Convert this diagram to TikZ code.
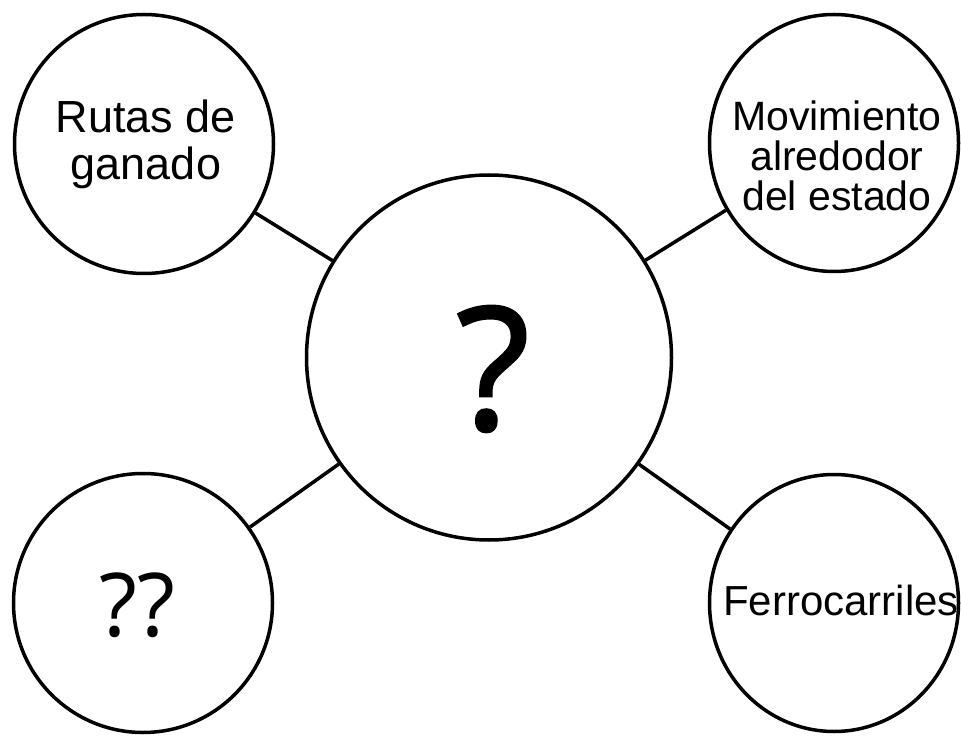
\documentclass[tikz,border=0pt]{standalone}
\usepackage{fontspec}
\setmainfont{Liberation Sans}
\newfontfamily\qfont{Open Sans}
\newfontfamily\qboldfont[FakeBold=1.5]{Open Sans}
\usepackage{tikz}
\usetikzlibrary{shapes.geometric}
\usepackage{xcolor}
\definecolor{inkblack}{RGB}{0,0,0}
\tikzset{bigwhitenode/.style={circle, fill=white, draw=inkblack, line width=3.5pt, minimum size=365pt, inner sep=0pt},
smallwhitenode/.style={circle, fill=white, draw=inkblack, line width=3.5pt, minimum size=259pt, inner sep=0pt},
ovalwhitenode/.style={ellipse, fill=white, draw=inkblack, line width=3.5pt, minimum width=249pt, minimum height=257pt, inner sep=0pt}}
\tikzset{wordnode/.style={inner sep=0pt, align=center, text=inkblack},
linkline/.style={draw=inkblack, line width=3.5pt}}

\begin{document}
\begin{tikzpicture}
                \useasboundingbox (0pt, 0pt) rectangle (961pt, 740pt);

                % Circles
                \node[bigwhitenode] (center) at (489pt, 382.5pt) {};
                \node[smallwhitenode] (rutas) at (144pt, 596pt) {};
                \node[smallwhitenode] (unknown) at (143pt, 137pt) {};
                \node[ovalwhitenode] (movimiento) at (834pt, 597pt) {};
                \node[ovalwhitenode] (ferro) at (834pt, 137pt) {};

                % Links
                \draw[linkline] (center) -- (rutas);
                \draw[linkline] (center) -- (unknown);
                \draw[linkline] (center) -- (movimiento);
                \draw[linkline] (center) -- (ferro);

                % Texts
                \node[wordnode, font=\fontsize{45pt}{47pt}\selectfont] (rutastext) at (146pt, 595.5pt) {Rutas de\\ganado};
                \node[wordnode, font=\fontsize{41pt}{40pt}\selectfont] (movimientotext) at (837pt, 584.4pt) {Movimiento\\alredodor\\del estado};
                \node[wordnode, font=\fontsize{42pt}{44pt}\selectfont] (ferrotext) at (841pt, 140pt) {Ferrocarriles};
                \node[wordnode, font=\qfont\fontsize{88pt}{90pt}\selectfont] (unknowntext) at (137.5pt, 135pt) {??};
                \node[wordnode, font=\qboldfont\fontsize{171pt}{175pt}\selectfont] (centertext) at (493pt, 371pt) {?};
            \end{tikzpicture}
\end{document}
